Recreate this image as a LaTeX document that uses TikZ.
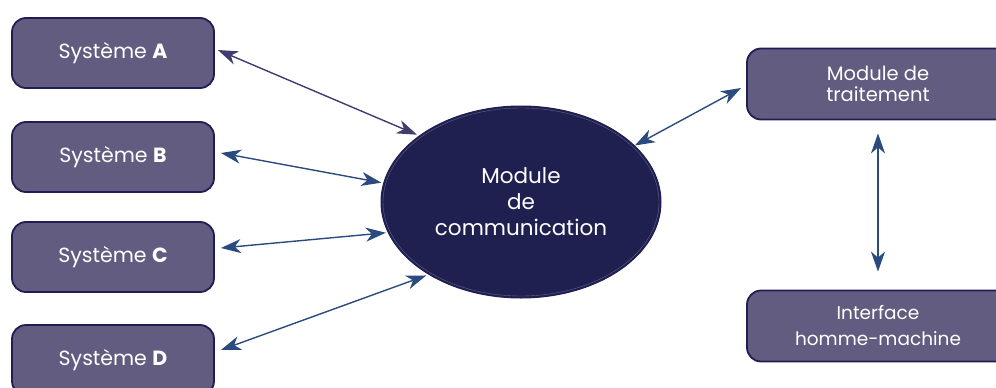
\documentclass[tikz,border=0pt]{standalone}
\usepackage{fontspec}
\setmainfont{Poppins}
\usetikzlibrary{arrows.meta,shapes.geometric,calc}
\definecolor{boxfill}{HTML}{625C80}
\definecolor{boxline}{HTML}{1E1E55}
\definecolor{ellfill}{HTML}{1F2050}
\definecolor{arrA}{HTML}{3F3D6E}
\definecolor{arrB}{HTML}{2B4A7E}
\begin{document}
\begin{tikzpicture}[x=1pt,y=-1pt,
  sysbox/.style={draw=boxline,line width=1.8pt,fill=boxfill,rounded corners=14pt,
    minimum width=202pt,minimum height=70pt,inner sep=0pt,text=white,
    font=\fontsize{20.5}{24}\selectfont},
  rbox/.style={draw=boxline,line width=1.8pt,fill=boxfill,rounded corners=14pt,
    minimum width=262pt,minimum height=71pt,inner sep=0pt,text=white,align=center},
  conn/.style={line width=1.4pt,{Stealth[length=20pt,width=14pt,inset=6pt]}-{Stealth[length=20pt,width=14pt,inset=6pt]}},
]
\useasboundingbox (0,0) rectangle (996,388);
\begin{scope}
\clip (0,0) rectangle (996,388);
\node[sysbox] (sa) at (113,53) {Système \textbf{A}};
\node[sysbox] (sb) at (113,157) {Système \textbf{B}};
\node[sysbox] (sc) at (113,257) {Système \textbf{C}};
\node[sysbox] (sd) at (113,360) {Système \textbf{D}};
\node[ellipse,draw=boxline,line width=1pt,fill=ellfill,minimum width=280pt,minimum height=192pt,
  inner sep=0pt,text=white,align=center,font=\fontsize{21.5}{26}\selectfont] (mc) at (521,202)
  {Module\\de\\communication};
\draw[white!30!ellfill,line width=0.4pt] (mc.center) ellipse [x radius=138pt,y radius=94pt];
\node[rbox,font=\fontsize{19.5}{21}\selectfont] (mt) at (878,84) {Module de\\traitement};
\node[rbox,font=\fontsize{18.5}{26}\selectfont] (hi) at (878,326) {Interface\\homme-machine};
\end{scope}
\draw[conn,arrA] ([xshift=3pt,yshift=3pt]sa.east) -- ([shift={(-2pt,1pt)}]mc.147);
\draw[conn,arrB] ([xshift=6pt,yshift=4pt]sb.east) -- ([xshift=-2pt]mc.172);
\draw[conn,arrB] ([xshift=6pt,yshift=9pt]sc.east) -- ([xshift=-2pt]mc.193);
\draw[conn,arrB] ([xshift=6pt,yshift=10pt]sd.east) -- ([shift={(-2pt,-1pt)}]mc.218);
\draw[conn,arrB] ([shift={(1pt,-1pt)}]mc.27.4) -- ([shift={(-5pt,-4pt)}]mt.west);
\draw[conn,arrB] ([yshift=-13pt]mt.south) -- ([yshift=18pt]hi.north);
\end{tikzpicture}
\end{document}
